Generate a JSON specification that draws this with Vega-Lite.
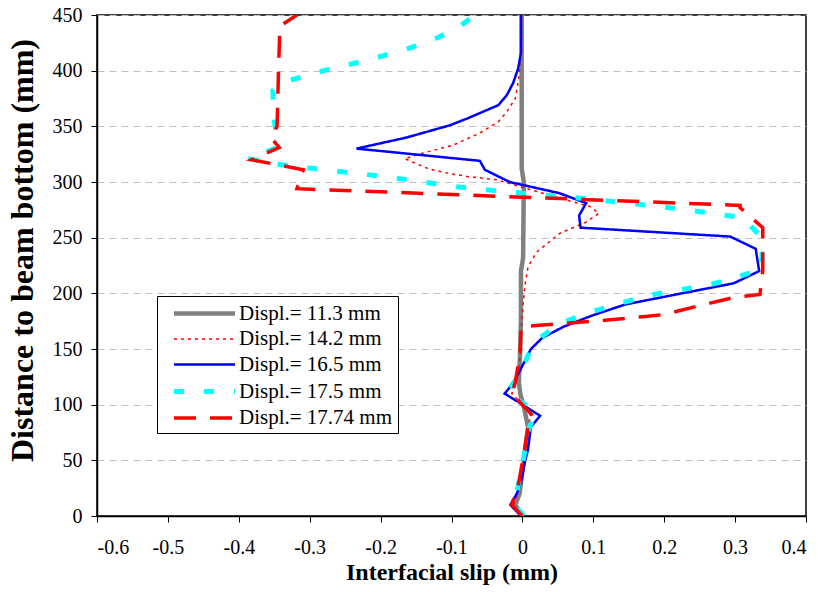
{
  "$schema": "https://vega.github.io/schema/vega-lite/v6.json",
  "width": 709,
  "height": 501,
  "autosize": {"type": "none"},
  "padding": {"left": 97, "top": 15, "right": 19, "bottom": 76},
  "background": "white",
  "config": {
    "view": {"stroke": "black", "strokeWidth": 1.5},
    "font": "Liberation Serif",
    "axis": {
      "labelFont": "Liberation Serif",
      "titleFont": "Liberation Serif",
      "labelColor": "black",
      "titleColor": "black",
      "domainColor": "black",
      "tickColor": "black",
      "labelFontSize": 20,
      "titleFontWeight": "bold"
    }
  },
  "data": {
    "values": [
      {"series": "Displ.= 11.3 mm", "slip": 0.0, "dist": 0},
      {"series": "Displ.= 11.3 mm", "slip": -0.010, "dist": 10},
      {"series": "Displ.= 11.3 mm", "slip": -0.004, "dist": 20},
      {"series": "Displ.= 11.3 mm", "slip": 0.0, "dist": 40},
      {"series": "Displ.= 11.3 mm", "slip": 0.004, "dist": 60},
      {"series": "Displ.= 11.3 mm", "slip": 0.008, "dist": 80},
      {"series": "Displ.= 11.3 mm", "slip": 0.003, "dist": 95},
      {"series": "Displ.= 11.3 mm", "slip": -0.003, "dist": 110},
      {"series": "Displ.= 11.3 mm", "slip": -0.005, "dist": 120},
      {"series": "Displ.= 11.3 mm", "slip": -0.003, "dist": 150},
      {"series": "Displ.= 11.3 mm", "slip": -0.002, "dist": 180},
      {"series": "Displ.= 11.3 mm", "slip": -0.002, "dist": 220},
      {"series": "Displ.= 11.3 mm", "slip": 0.001, "dist": 232},
      {"series": "Displ.= 11.3 mm", "slip": 0.002, "dist": 300},
      {"series": "Displ.= 11.3 mm", "slip": -0.001, "dist": 312},
      {"series": "Displ.= 11.3 mm", "slip": -0.001, "dist": 450},

      {"series": "Displ.= 14.2 mm", "slip": 0.0, "dist": 0},
      {"series": "Displ.= 14.2 mm", "slip": -0.012, "dist": 10},
      {"series": "Displ.= 14.2 mm", "slip": -0.003, "dist": 30},
      {"series": "Displ.= 14.2 mm", "slip": 0.004, "dist": 60},
      {"series": "Displ.= 14.2 mm", "slip": 0.008, "dist": 80},
      {"series": "Displ.= 14.2 mm", "slip": 0.012, "dist": 90},
      {"series": "Displ.= 14.2 mm", "slip": 0.0, "dist": 100},
      {"series": "Displ.= 14.2 mm", "slip": -0.015, "dist": 110},
      {"series": "Displ.= 14.2 mm", "slip": -0.008, "dist": 120},
      {"series": "Displ.= 14.2 mm", "slip": -0.002, "dist": 150},
      {"series": "Displ.= 14.2 mm", "slip": -0.001, "dist": 175},
      {"series": "Displ.= 14.2 mm", "slip": 0.001, "dist": 190},
      {"series": "Displ.= 14.2 mm", "slip": 0.004, "dist": 209},
      {"series": "Displ.= 14.2 mm", "slip": 0.008, "dist": 224},
      {"series": "Displ.= 14.2 mm", "slip": 0.020, "dist": 237},
      {"series": "Displ.= 14.2 mm", "slip": 0.053, "dist": 254},
      {"series": "Displ.= 14.2 mm", "slip": 0.090, "dist": 264},
      {"series": "Displ.= 14.2 mm", "slip": 0.108, "dist": 272},
      {"series": "Displ.= 14.2 mm", "slip": 0.095, "dist": 278},
      {"series": "Displ.= 14.2 mm", "slip": 0.039, "dist": 288},
      {"series": "Displ.= 14.2 mm", "slip": -0.036, "dist": 302},
      {"series": "Displ.= 14.2 mm", "slip": -0.078, "dist": 305},
      {"series": "Displ.= 14.2 mm", "slip": -0.106, "dist": 308},
      {"series": "Displ.= 14.2 mm", "slip": -0.133, "dist": 312},
      {"series": "Displ.= 14.2 mm", "slip": -0.166, "dist": 321},
      {"series": "Displ.= 14.2 mm", "slip": -0.140, "dist": 326},
      {"series": "Displ.= 14.2 mm", "slip": -0.098, "dist": 333},
      {"series": "Displ.= 14.2 mm", "slip": -0.060, "dist": 344},
      {"series": "Displ.= 14.2 mm", "slip": -0.034, "dist": 354},
      {"series": "Displ.= 14.2 mm", "slip": -0.022, "dist": 363},
      {"series": "Displ.= 14.2 mm", "slip": -0.010, "dist": 375},
      {"series": "Displ.= 14.2 mm", "slip": -0.005, "dist": 393},
      {"series": "Displ.= 14.2 mm", "slip": -0.001, "dist": 428},
      {"series": "Displ.= 14.2 mm", "slip": -0.001, "dist": 450},

      {"series": "Displ.= 16.5 mm", "slip": -0.002, "dist": 0},
      {"series": "Displ.= 16.5 mm", "slip": -0.017, "dist": 10},
      {"series": "Displ.= 16.5 mm", "slip": -0.008, "dist": 20},
      {"series": "Displ.= 16.5 mm", "slip": -0.002, "dist": 30},
      {"series": "Displ.= 16.5 mm", "slip": 0.004, "dist": 50},
      {"series": "Displ.= 16.5 mm", "slip": 0.008, "dist": 60},
      {"series": "Displ.= 16.5 mm", "slip": 0.012, "dist": 80},
      {"series": "Displ.= 16.5 mm", "slip": 0.025, "dist": 90},
      {"series": "Displ.= 16.5 mm", "slip": 0.0, "dist": 100},
      {"series": "Displ.= 16.5 mm", "slip": -0.025, "dist": 110},
      {"series": "Displ.= 16.5 mm", "slip": -0.012, "dist": 120},
      {"series": "Displ.= 16.5 mm", "slip": -0.004, "dist": 130},
      {"series": "Displ.= 16.5 mm", "slip": 0.004, "dist": 140},
      {"series": "Displ.= 16.5 mm", "slip": 0.012, "dist": 150},
      {"series": "Displ.= 16.5 mm", "slip": 0.028, "dist": 160},
      {"series": "Displ.= 16.5 mm", "slip": 0.058, "dist": 170},
      {"series": "Displ.= 16.5 mm", "slip": 0.098, "dist": 180},
      {"series": "Displ.= 16.5 mm", "slip": 0.145, "dist": 190},
      {"series": "Displ.= 16.5 mm", "slip": 0.225, "dist": 200},
      {"series": "Displ.= 16.5 mm", "slip": 0.298, "dist": 209},
      {"series": "Displ.= 16.5 mm", "slip": 0.334, "dist": 220},
      {"series": "Displ.= 16.5 mm", "slip": 0.329, "dist": 240},
      {"series": "Displ.= 16.5 mm", "slip": 0.293, "dist": 251},
      {"series": "Displ.= 16.5 mm", "slip": 0.082, "dist": 259},
      {"series": "Displ.= 16.5 mm", "slip": 0.080, "dist": 270},
      {"series": "Displ.= 16.5 mm", "slip": 0.090, "dist": 281},
      {"series": "Displ.= 16.5 mm", "slip": 0.052, "dist": 290},
      {"series": "Displ.= 16.5 mm", "slip": -0.018, "dist": 300},
      {"series": "Displ.= 16.5 mm", "slip": -0.053, "dist": 311},
      {"series": "Displ.= 16.5 mm", "slip": -0.060, "dist": 319},
      {"series": "Displ.= 16.5 mm", "slip": -0.234, "dist": 330},
      {"series": "Displ.= 16.5 mm", "slip": -0.163, "dist": 340},
      {"series": "Displ.= 16.5 mm", "slip": -0.102, "dist": 351},
      {"series": "Displ.= 16.5 mm", "slip": -0.078, "dist": 357},
      {"series": "Displ.= 16.5 mm", "slip": -0.056, "dist": 363},
      {"series": "Displ.= 16.5 mm", "slip": -0.034, "dist": 369},
      {"series": "Displ.= 16.5 mm", "slip": -0.022, "dist": 378},
      {"series": "Displ.= 16.5 mm", "slip": -0.013, "dist": 389},
      {"series": "Displ.= 16.5 mm", "slip": -0.006, "dist": 402},
      {"series": "Displ.= 16.5 mm", "slip": -0.002, "dist": 416},
      {"series": "Displ.= 16.5 mm", "slip": -0.002, "dist": 450},

      {"series": "Displ.= 17.5 mm", "slip": 0.002, "dist": 0},
      {"series": "Displ.= 17.5 mm", "slip": -0.012, "dist": 10},
      {"series": "Displ.= 17.5 mm", "slip": -0.005, "dist": 30},
      {"series": "Displ.= 17.5 mm", "slip": 0.004, "dist": 60},
      {"series": "Displ.= 17.5 mm", "slip": 0.010, "dist": 80},
      {"series": "Displ.= 17.5 mm", "slip": 0.018, "dist": 90},
      {"series": "Displ.= 17.5 mm", "slip": 0.004, "dist": 100},
      {"series": "Displ.= 17.5 mm", "slip": -0.022, "dist": 110},
      {"series": "Displ.= 17.5 mm", "slip": -0.012, "dist": 120},
      {"series": "Displ.= 17.5 mm", "slip": -0.003, "dist": 130},
      {"series": "Displ.= 17.5 mm", "slip": 0.005, "dist": 140},
      {"series": "Displ.= 17.5 mm", "slip": 0.012, "dist": 150},
      {"series": "Displ.= 17.5 mm", "slip": 0.025, "dist": 160},
      {"series": "Displ.= 17.5 mm", "slip": 0.050, "dist": 172},
      {"series": "Displ.= 17.5 mm", "slip": 0.090, "dist": 182},
      {"series": "Displ.= 17.5 mm", "slip": 0.138, "dist": 191},
      {"series": "Displ.= 17.5 mm", "slip": 0.177, "dist": 198},
      {"series": "Displ.= 17.5 mm", "slip": 0.220, "dist": 203},
      {"series": "Displ.= 17.5 mm", "slip": 0.260, "dist": 207},
      {"series": "Displ.= 17.5 mm", "slip": 0.300, "dist": 214},
      {"series": "Displ.= 17.5 mm", "slip": 0.338, "dist": 222},
      {"series": "Displ.= 17.5 mm", "slip": 0.338, "dist": 250},
      {"series": "Displ.= 17.5 mm", "slip": 0.310, "dist": 268},
      {"series": "Displ.= 17.5 mm", "slip": 0.232, "dist": 275},
      {"series": "Displ.= 17.5 mm", "slip": 0.152, "dist": 281},
      {"series": "Displ.= 17.5 mm", "slip": 0.063, "dist": 286.5},
      {"series": "Displ.= 17.5 mm", "slip": -0.017, "dist": 291},
      {"series": "Displ.= 17.5 mm", "slip": -0.098, "dist": 296},
      {"series": "Displ.= 17.5 mm", "slip": -0.183, "dist": 304},
      {"series": "Displ.= 17.5 mm", "slip": -0.266, "dist": 310},
      {"series": "Displ.= 17.5 mm", "slip": -0.347, "dist": 316},
      {"series": "Displ.= 17.5 mm", "slip": -0.387, "dist": 321},
      {"series": "Displ.= 17.5 mm", "slip": -0.345, "dist": 331},
      {"series": "Displ.= 17.5 mm", "slip": -0.350, "dist": 356},
      {"series": "Displ.= 17.5 mm", "slip": -0.352, "dist": 382},
      {"series": "Displ.= 17.5 mm", "slip": -0.330, "dist": 391},
      {"series": "Displ.= 17.5 mm", "slip": -0.280, "dist": 400},
      {"series": "Displ.= 17.5 mm", "slip": -0.215, "dist": 410},
      {"series": "Displ.= 17.5 mm", "slip": -0.160, "dist": 420},
      {"series": "Displ.= 17.5 mm", "slip": -0.118, "dist": 430},
      {"series": "Displ.= 17.5 mm", "slip": -0.088, "dist": 440},
      {"series": "Displ.= 17.5 mm", "slip": -0.067, "dist": 450},

      {"series": "Displ.= 17.74 mm", "slip": 0.0, "dist": 0},
      {"series": "Displ.= 17.74 mm", "slip": -0.015, "dist": 10},
      {"series": "Displ.= 17.74 mm", "slip": -0.005, "dist": 30},
      {"series": "Displ.= 17.74 mm", "slip": 0.003, "dist": 60},
      {"series": "Displ.= 17.74 mm", "slip": 0.008, "dist": 80},
      {"series": "Displ.= 17.74 mm", "slip": 0.015, "dist": 90},
      {"series": "Displ.= 17.74 mm", "slip": 0.0, "dist": 100},
      {"series": "Displ.= 17.74 mm", "slip": -0.015, "dist": 110},
      {"series": "Displ.= 17.74 mm", "slip": -0.010, "dist": 120},
      {"series": "Displ.= 17.74 mm", "slip": -0.005, "dist": 140},
      {"series": "Displ.= 17.74 mm", "slip": -0.003, "dist": 150},
      {"series": "Displ.= 17.74 mm", "slip": -0.002, "dist": 170},
      {"series": "Displ.= 17.74 mm", "slip": 0.020, "dist": 171},
      {"series": "Displ.= 17.74 mm", "slip": 0.070, "dist": 173.5},
      {"series": "Displ.= 17.74 mm", "slip": 0.120, "dist": 176},
      {"series": "Displ.= 17.74 mm", "slip": 0.170, "dist": 179},
      {"series": "Displ.= 17.74 mm", "slip": 0.200, "dist": 181},
      {"series": "Displ.= 17.74 mm", "slip": 0.250, "dist": 189},
      {"series": "Displ.= 17.74 mm", "slip": 0.300, "dist": 196.5},
      {"series": "Displ.= 17.74 mm", "slip": 0.335, "dist": 199},
      {"series": "Displ.= 17.74 mm", "slip": 0.339, "dist": 220},
      {"series": "Displ.= 17.74 mm", "slip": 0.339, "dist": 259},
      {"series": "Displ.= 17.74 mm", "slip": 0.307, "dist": 277},
      {"series": "Displ.= 17.74 mm", "slip": 0.307, "dist": 279},
      {"series": "Displ.= 17.74 mm", "slip": -0.318, "dist": 294},
      {"series": "Displ.= 17.74 mm", "slip": -0.309, "dist": 311},
      {"series": "Displ.= 17.74 mm", "slip": -0.382, "dist": 320},
      {"series": "Displ.= 17.74 mm", "slip": -0.343, "dist": 331},
      {"series": "Displ.= 17.74 mm", "slip": -0.355, "dist": 340},
      {"series": "Displ.= 17.74 mm", "slip": -0.346, "dist": 350},
      {"series": "Displ.= 17.74 mm", "slip": -0.344, "dist": 400},
      {"series": "Displ.= 17.74 mm", "slip": -0.342, "dist": 440},
      {"series": "Displ.= 17.74 mm", "slip": -0.318, "dist": 450}
    ]
  },
  "mark": {"type": "line", "clip": true, "strokeCap": "butt", "strokeJoin": "miter"},
  "encoding": {
    "x": {
      "field": "slip",
      "type": "quantitative",
      "scale": {"domain": [-0.6, 0.4], "nice": false, "zero": false},
      "axis": {
        "title": "Interfacial slip (mm)",
        "titleFontSize": 24,
        "titlePadding": 3,
        "values": [-0.6, -0.5, -0.4, -0.3, -0.2, -0.1, 0, 0.1, 0.2, 0.3, 0.4],
        "labelExpr": "datum.value == 0 ? '0' : (datum.value < 0 ? '-' : '') + format(abs(datum.value), '.1f')",
        "grid": false,
        "tickSize": 6,
        "labelPadding": 15,
        "domainWidth": 1.5
      }
    },
    "y": {
      "field": "dist",
      "type": "quantitative",
      "scale": {"domain": [0, 450], "nice": false},
      "axis": {
        "title": "Distance to beam bottom (mm)",
        "titleFontSize": 32,
        "titleX": -58,
        "titleY": 235,
        "values": [0, 50, 100, 150, 200, 250, 300, 350, 400, 450],
        "grid": true,
        "gridColor": "#c0c0c0",
        "gridDash": [7, 5],
        "gridWidth": 1,
        "tickSize": 6,
        "labelPadding": 9,
        "domainWidth": 1.5
      }
    },
    "order": {"field": "dist", "type": "quantitative"},
    "color": {
      "field": "series",
      "type": "nominal",
      "scale": {
        "domain": ["Displ.= 11.3 mm", "Displ.= 14.2 mm", "Displ.= 16.5 mm", "Displ.= 17.5 mm", "Displ.= 17.74 mm"],
        "range": ["#808080", "#ff0000", "#0000ff", "#00ffff", "#ff0000"]
      },
      "legend": {
        "orient": "none",
        "legendX": 60,
        "legendY": 281,
        "title": null,
        "symbolType": "M-3.05,0L3.05,0",
        "symbolSize": 400,
        "symbolOffset": 30,
        "labelFont": "Liberation Serif",
        "labelFontSize": 21,
        "labelColor": "black",
        "labelOffset": 22,
        "labelLimit": 300,
        "fillColor": "white",
        "strokeColor": "black",
        "padding": 5,
        "rowPadding": 4
      }
    },
    "strokeDash": {
      "field": "series",
      "type": "nominal",
      "scale": {
        "domain": ["Displ.= 11.3 mm", "Displ.= 14.2 mm", "Displ.= 16.5 mm", "Displ.= 17.5 mm", "Displ.= 17.74 mm"],
        "range": [[1, 0], [3, 4], [1, 0], [10, 20], [22, 14]]
      }
    },
    "strokeWidth": {
      "field": "series",
      "type": "nominal",
      "scale": {
        "type": "ordinal",
        "domain": ["Displ.= 11.3 mm", "Displ.= 14.2 mm", "Displ.= 16.5 mm", "Displ.= 17.5 mm", "Displ.= 17.74 mm"],
        "range": [4.5, 1.5, 2.5, 5, 3.5]
      }
    }
  }
}
